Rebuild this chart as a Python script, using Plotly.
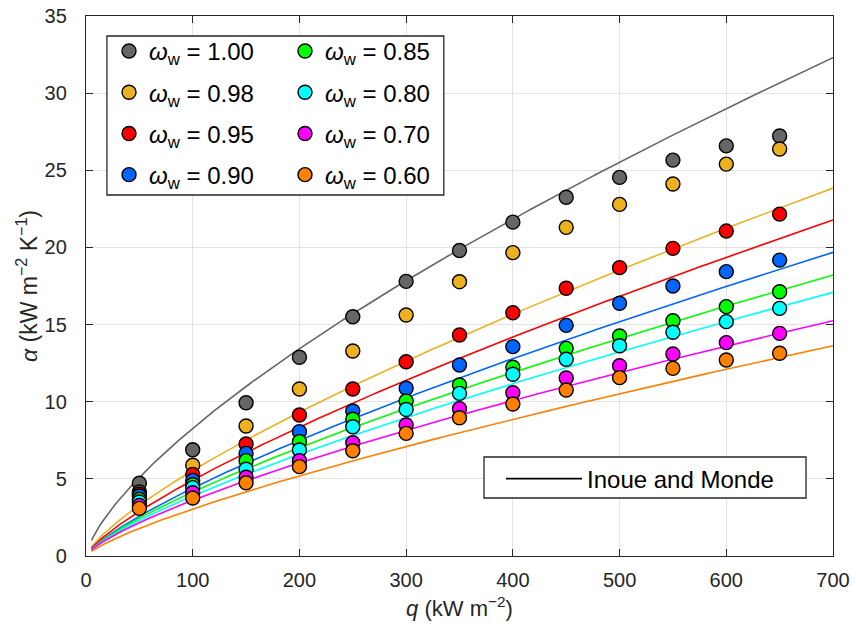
import numpy as np
import plotly.graph_objects as go

# Heat flux levels of the measurements (kW m^-2)
q_data = [50, 100, 150, 200, 250, 300, 350, 400, 450, 500, 550, 600, 650]

# Mass fraction of water for each series
omega = ["1.00", "0.98", "0.95", "0.90", "0.85", "0.80", "0.70", "0.60"]
colors = ["#666666", "#EDB120", "#FF0000", "#0066FF", "#00FF00", "#00FFFF", "#FF00FF", "#FF8000"]

# Measured heat transfer coefficients (kW m^-2 K^-1)
alpha_100 = [4.72, 6.89, 9.93, 12.88, 15.51, 17.80, 19.80, 21.64, 23.25, 24.54, 25.66, 26.58, 27.22]
alpha_098 = [4.15, 5.88, 8.43, 10.82, 13.29, 15.62, 17.78, 19.66, 21.30, 22.79, 24.11, 25.40, 26.38]
alpha_095 = [4.02, 5.29, 7.26, 9.14, 10.82, 12.59, 14.32, 15.77, 17.35, 18.69, 19.94, 21.06, 22.16]
alpha_090 = [3.89, 4.90, 6.65, 8.06, 9.40, 10.87, 12.38, 13.57, 14.95, 16.38, 17.50, 18.43, 19.18]
alpha_085 = [3.67, 4.62, 6.18, 7.41, 8.86, 10.05, 11.08, 12.23, 13.46, 14.26, 15.25, 16.16, 17.13]
alpha_080 = [3.50, 4.43, 5.62, 6.87, 8.38, 9.50, 10.54, 11.78, 12.75, 13.63, 14.50, 15.19, 16.05]
alpha_070 = [3.28, 4.10, 5.10, 6.18, 7.34, 8.49, 9.55, 10.58, 11.54, 12.33, 13.09, 13.83, 14.43]
alpha_060 = [3.09, 3.76, 4.75, 5.79, 6.82, 7.95, 8.96, 9.85, 10.76, 11.56, 12.16, 12.70, 13.14]
alpha_series = [alpha_100, alpha_098, alpha_095, alpha_090, alpha_085, alpha_080, alpha_070, alpha_060]

# Inoue and Monde correlation, written as alpha = alpha_700 * (q / 700) ** n
im_alpha_700 = [32.3, 23.85, 21.78, 19.68, 18.21, 17.09, 15.25, 13.63]
im_exponent = [0.70, 0.75, 0.765, 0.77, 0.76, 0.76, 0.74, 0.77]
q_line = np.linspace(5, 700, 300)

x_ticks = [0, 100, 200, 300, 400, 500, 600, 700]
y_ticks = [0, 5, 10, 15, 20, 25, 30, 35]

FONT = "Liberation Sans, Arial, sans-serif"
AXIS_COLOR = "#262626"

fig = go.Figure()

# Correlation curves (behind the markers)
for a700, n, c in zip(im_alpha_700, im_exponent, colors):
    fig.add_trace(go.Scatter(
        x=q_line, y=a700 * (q_line / 700.0) ** n, mode="lines",
        line=dict(color=c, width=1.6), showlegend=False, hoverinfo="skip",
    ))

# Measurements
for i, (w, c, a) in enumerate(zip(omega, colors, alpha_series)):
    fig.add_trace(go.Scatter(
        x=q_data, y=a, mode="markers",
        marker=dict(size=14, color=c, line=dict(color="black", width=1.4)),
        name=f"<i>ω</i><sub>w</sub> = {w}",
        legend="legend" if i < 4 else "legend3",
        legendgroup=f"g{i}",
    ))

# Legend entry for the correlation
fig.add_trace(go.Scatter(
    x=[None], y=[None], mode="lines", line=dict(color="black", width=1.6),
    name="Inoue and Monde", legend="legend2",
))

axis_common = dict(
    showline=True, linecolor=AXIS_COLOR, linewidth=1.3, mirror="ticks",
    ticks="inside", ticklen=7, tickwidth=1.3, tickcolor=AXIS_COLOR,
    showgrid=True, gridcolor="#E3E3E3", gridwidth=1, zeroline=False,
    tickfont=dict(family=FONT, size=20, color=AXIS_COLOR),
    automargin=False,
)

legend_font = dict(family=FONT, size=24, color="black")

fig.update_layout(
    width=856, height=637,
    margin=dict(l=86, r=23, t=16, b=81),
    paper_bgcolor="white", plot_bgcolor="white",
    font=dict(family=FONT, color=AXIS_COLOR),
    xaxis=dict(range=[0, 700], tickvals=x_ticks, ticklabelstandoff=6,
               title=dict(text="<i>q</i> (kW m<sup>−2</sup>)", font=dict(size=22), standoff=10),
               **axis_common),
    yaxis=dict(range=[0, 35], tickvals=y_ticks, ticklabelstandoff=14,
               title=dict(text="<i>α</i> (kW m<sup>−2</sup> K<sup>−1</sup>)", font=dict(size=23), standoff=0),
               **axis_common),
    legend=dict(x=0.0308, y=0.976, xanchor="left", yanchor="top",
                bgcolor="rgba(0,0,0,0)", borderwidth=0, tracegroupgap=7,
                font=legend_font),
    legend3=dict(x=0.2664, y=0.976, xanchor="left", yanchor="top",
                 bgcolor="rgba(0,0,0,0)", borderwidth=0, tracegroupgap=7,
                 font=legend_font),
    legend2=dict(x=0.5556, y=0.1426, xanchor="left", yanchor="middle",
                 bgcolor="rgba(0,0,0,0)", borderwidth=0, itemwidth=76,
                 font=legend_font),
    shapes=[
        dict(type="rect", xref="paper", yref="paper",
             x0=0.028, x1=0.479, y0=0.6685, y1=0.963,
             fillcolor="white", line=dict(color=AXIS_COLOR, width=1.3), layer="above"),
        dict(type="rect", xref="paper", yref="paper",
             x0=0.5328, x1=0.9639, y0=0.1074, y1=0.1833,
             fillcolor="white", line=dict(color=AXIS_COLOR, width=1.3), layer="above"),
    ],
)

fig.write_html("out.html")
